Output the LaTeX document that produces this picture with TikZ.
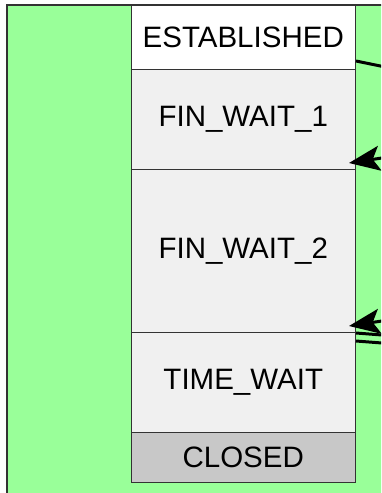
\documentclass[tikz,border=0pt]{standalone}
\usepackage{fontspec}
\setmainfont{Liberation Sans}
\usetikzlibrary{arrows.meta}
\definecolor{bggreen}{HTML}{99FF99}
\definecolor{cellgrey}{HTML}{F0F0F0}
\definecolor{closedgrey}{HTML}{C8C8C8}
\definecolor{edgegrey}{HTML}{333333}
\tikzset{
  cell/.style={draw=edgegrey, line width=1pt, minimum width=224.5pt, inner sep=0pt,
    font=\fontsize{29.5}{31}\selectfont, text=black},
  msg/.style={line width=3pt, draw=black},
  msgarrow/.style={msg, -{Stealth[length=31pt,width=25pt,inset=7pt]}},
}
\begin{document}
\begin{tikzpicture}[x=1pt,y=-1pt]
\useasboundingbox (0,0) rectangle (381,493);
\clip (0,0) rectangle (381,493);
\fill[white] (0,0) rectangle (381,493);
\fill[bggreen] (7,5) rectangle (390,500);
\draw[edgegrey, line width=1.2pt] (7,500) -- (7,5) -- (390,5);
\node[cell, fill=white, minimum height=64pt] (est) at (243.25,37) {ESTABLISHED};
\node[cell, fill=cellgrey, minimum height=100.5pt] (fw1) at (243.25,119.25) {FIN\_WAIT\_1};
\node[cell, fill=cellgrey, minimum height=162.5pt] (fw2) at (243.25,250.75) {FIN\_WAIT\_2};
\node[cell, fill=cellgrey, minimum height=100pt] (tw) at (243.25,382) {TIME\_WAIT};
\node[cell, fill=closedgrey, minimum height=50pt] (cl) at (243.25,457) {CLOSED};
% connector ends beyond the right edge
\coordinate (o1) at (395,69);
\coordinate (i1) at (395,156);
\coordinate (t1) at (349,163);
\coordinate (i2) at (395,319);
\coordinate (t2) at (349,326);
\coordinate (o2) at (395,336);
\coordinate (o3) at (395,344);
\draw[msg] (est.east |- 0,61) -- (o1);
\draw[msgarrow] (i1) -- (t1);
\draw[msgarrow] (i2) -- (t2);
\draw[msg] (tw.east |- 0,333) -- (o2);
\draw[msg] (tw.east |- 0,341) -- (o3);
\end{tikzpicture}
\end{document}
